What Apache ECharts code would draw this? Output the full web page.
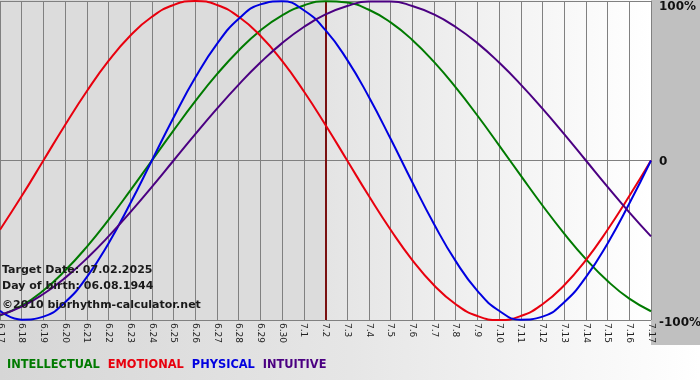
<!DOCTYPE html>
<html>
<head>
<meta charset="utf-8">
<script src="https://cdn.jsdelivr.net/npm/echarts@6/dist/echarts.min.js"></script>
<style>
html,body{margin:0;padding:0;}
#c{width:700px;height:380px;background:linear-gradient(to right,#d6d6d6 0%,#e6e6e6 50%,#ffffff 100%);position:relative;}
#rp{position:absolute;left:651px;top:0;width:49px;height:345px;background:#c0c0c0;}
#main{position:absolute;left:0;top:0;width:700px;height:380px;}
</style>
</head>
<body>
<div id="c"><div id="rp"></div><div id="main"></div></div>
<script>
var categories = ['6.17','6.18','6.19','6.20','6.21','6.22','6.23','6.24','6.25','6.26','6.27','6.28','6.29','6.30','7.1','7.2','7.3','7.4','7.5','7.6','7.7','7.8','7.9','7.10','7.11','7.12','7.13','7.14','7.15','7.16','7.17'];
var targetDay = '7.2';
var intellectual = [-0.972,-0.910,-0.815,-0.690,-0.541,-0.372,-0.189,0,0.189,0.372,0.541,0.690,0.815,0.910,0.972,0.999,0.990,0.945,0.866,0.756,0.618,0.458,0.282,0.095,-0.095,-0.282,-0.458,-0.618,-0.756,-0.866,-0.945];
var emotional = [-0.434,-0.223,0,0.223,0.434,0.624,0.782,0.901,0.975,1,0.975,0.901,0.782,0.624,0.434,0.223,0,-0.223,-0.434,-0.624,-0.782,-0.901,-0.975,-1,-0.975,-0.901,-0.782,-0.624,-0.434,-0.223,0];
var physical = [-0.942,-0.998,-0.979,-0.888,-0.731,-0.520,-0.270,0,0.270,0.520,0.731,0.888,0.979,0.998,0.942,0.817,0.631,0.398,0.136,-0.136,-0.398,-0.631,-0.817,-0.942,-0.998,-0.979,-0.888,-0.731,-0.520,-0.270,0];
var intuitive = [-0.969,-0.916,-0.837,-0.736,-0.614,-0.476,-0.325,-0.165,0,0.165,0.325,0.476,0.614,0.736,0.837,0.916,0.969,0.997,0.997,0.969,0.916,0.837,0.736,0.614,0.476,0.325,0.165,0,-0.165,-0.325,-0.476];
var yTickLabels = {'1':'100%','0':'0','-1':'-100%'};
var seriesNames = ['INTELLECTUAL','EMOTIONAL','PHYSICAL','INTUITIVE'];
var seriesColors = ['#007a00','#e8000e','#0000e0','#4b0082'];
var infoLines = ['Target Date: 07.02.2025','Day of birth: 06.08.1944','\u00a92010 biorhythm-calculator.net'];

var chart = echarts.init(document.getElementById('main'), null, {renderer:'canvas'});
var seriesData = [intellectual, emotional, physical, intuitive];
var series = [];
series.push({
  type:'line', data:[], symbol:'none', z:1, silent:true,
  markArea:{
    silent:true,
    data:[
      [{xAxis:categories[0], itemStyle:{color:'#dcdcdc'}},{xAxis:targetDay}],
      [{xAxis:targetDay, itemStyle:{color:new echarts.graphic.LinearGradient(0,0,1,0,[{offset:0,color:'#e4e4e4'},{offset:1,color:'#ffffff'}])}},{xAxis:categories[categories.length-1]}]
    ]
  }
});
seriesData.forEach(function(d, k){
  series.push({
    name: seriesNames[k], type:'line', data:d, smooth:0.5, symbol:'none',
    lineStyle:{color:seriesColors[k], width:2}, itemStyle:{color:seriesColors[k]}, z: 5 + k
  });
});
series.push({
  type:'line', data:[], symbol:'none', z:12,
  markLine:{silent:true, symbol:'none', label:{show:false}, lineStyle:{color:'#7a1010', width:2, type:'solid'},
    data:[{xAxis:targetDay}]}
});

var graphics = infoLines.map(function(t, k){
  return {type:'text', left:2, top:[265,281,300][k], z:20,
    style:{text:t, fill:'#1a1a1a', font:'bold 11px "DejaVu Sans", Verdana, sans-serif'}};
});

var lblFont = '"DejaVu Sans", Verdana, sans-serif';
chart.setOption({
  animation:false,
  grid:{left:0, right:49, top:1, bottom:60, containLabel:false, outerBoundsMode:'none'},
  legend:{
    left:2, top:360, padding:0, itemWidth:0, itemHeight:0, itemGap:3, icon:'none',
    data: seriesNames.map(function(n,k){return {name:n, icon:'none', textStyle:{color:seriesColors[k]}};}),
    textStyle:{fontFamily:lblFont, fontWeight:'bold', fontSize:11.4}
  },
  xAxis:{
    type:'category', data:categories, boundaryGap:false, z:3,
    axisLine:{show:true, lineStyle:{color:'#808080', width:1}},
    axisTick:{show:true, length:5, lineStyle:{color:'#808080'}, interval:0},
    splitLine:{show:true, interval:0, lineStyle:{color:'#808080', width:1}},
    axisLabel:{interval:0, rotate:-90, margin:3, fontSize:9, color:'#222', fontFamily:'Tahoma, "DejaVu Sans", sans-serif'}
  },
  yAxis:{
    type:'value', min:-1, max:1, interval:1, position:'right', z:3,
    axisLine:{show:false}, axisTick:{show:false},
    splitLine:{show:true, lineStyle:{color:'#808080', width:1}},
    axisLabel:{margin:8, color:'#111', fontSize:12, fontWeight:'bold', fontFamily:lblFont,
      formatter:function(v){
        var s = yTickLabels[String(v)];
        if (v === 1) return '{t|' + s + '}';
        if (v === -1) return '{b|' + s + '}';
        return '{m|' + s + '}';
      },
      rich:{
        t:{fontSize:12, fontWeight:'bold', fontFamily:lblFont, color:'#111', padding:[12,0,0,0]},
        m:{fontSize:12, fontWeight:'bold', fontFamily:lblFont, color:'#111', padding:[3,0,0,0]},
        b:{fontSize:12, fontWeight:'bold', fontFamily:lblFont, color:'#111', padding:[5,0,0,0]}
      }
    }
  },
  graphic:graphics,
  series:series
});
</script>
</body>
</html>
